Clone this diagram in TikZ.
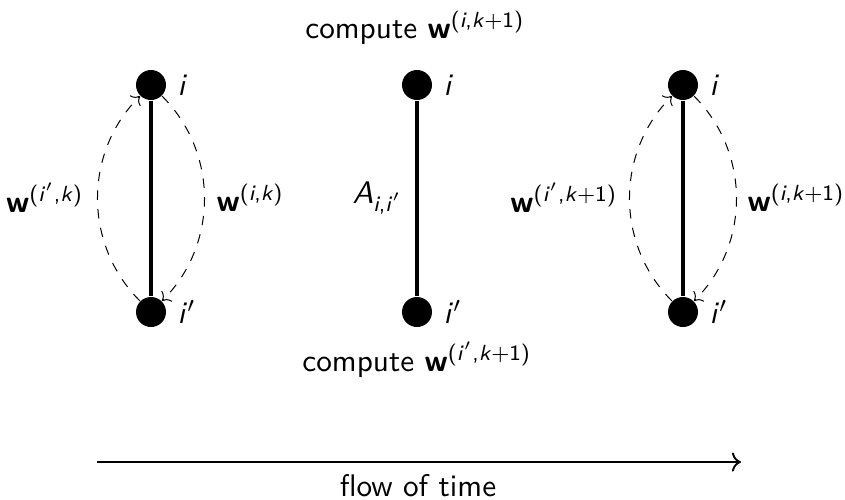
\documentclass[tikz,border=0pt]{standalone}
\usetikzlibrary{arrows.meta}
\newcommand{\vi}{\textit{i}}
\newcommand{\vp}{\textit{i}$'$}
\newcommand{\wsup}[1]{\textbf{w}\textsuperscript{(#1)}}
\begin{document}
\begin{tikzpicture}[x=0.32pt,y=-0.32pt,font=\sffamily,
  vert/.style={circle,fill=black,minimum size=9.6pt,inner sep=0pt},
  edge/.style={line width=1.25pt},
  msg/.style={dashed,line width=0.32pt,->,bend left=45},
  lbl/.style={inner sep=0pt}]
\useasboundingbox (0,0) rectangle (845,499);
% left
\node[vert,label=right:\vi] (lt) at (151,85) {};
\node[vert,label=right:\vp] (lb) at (151,312) {};
\draw[edge] (lt) -- (lb);
\draw[msg] (lb) to (lt);
\draw[msg] (lt) to (lb);
\node[lbl,anchor=east] (l1) at (84,198) {\wsup{\vp,\textit{k}}};
\node[lbl,anchor=west] (l2) at (216,198) {\wsup{\vi,\textit{k}}};
% middle
\node[vert,label=right:\vi] (mt) at (417,85) {};
\node[vert,label=right:\vp] (mb) at (417,312) {};
\draw[edge] (mt) -- (mb);
\node[lbl,anchor=east] (ma) at (403,198) {\textit{A}\textsubscript{\vi,\vp}};
\node (top) at (415,28) {compute \wsup{\vi,\textit{k}+1}};
\node (bot) at (417,360) {compute \wsup{\vp,\textit{k}+1}};
% right
\node[vert,label=right:\vi] (rt) at (683,85) {};
\node[vert,label=right:\vp] (rb) at (683,312) {};
\draw[edge] (rt) -- (rb);
\draw[msg] (rb) to (rt);
\draw[msg] (rt) to (rb);
\node[lbl,anchor=east] (r1) at (618,198) {\wsup{\vp,\textit{k}+1}};
\node[lbl,anchor=west] (r2) at (747,198) {\wsup{\vi,\textit{k}+1}};
% time
\coordinate (ta) at (97,462);
\coordinate (tb) at (741,462);
\draw[semithick,->] (ta) -- (tb);
\node (ft) at (418,486) {flow of time};
\end{tikzpicture}
\end{document}
